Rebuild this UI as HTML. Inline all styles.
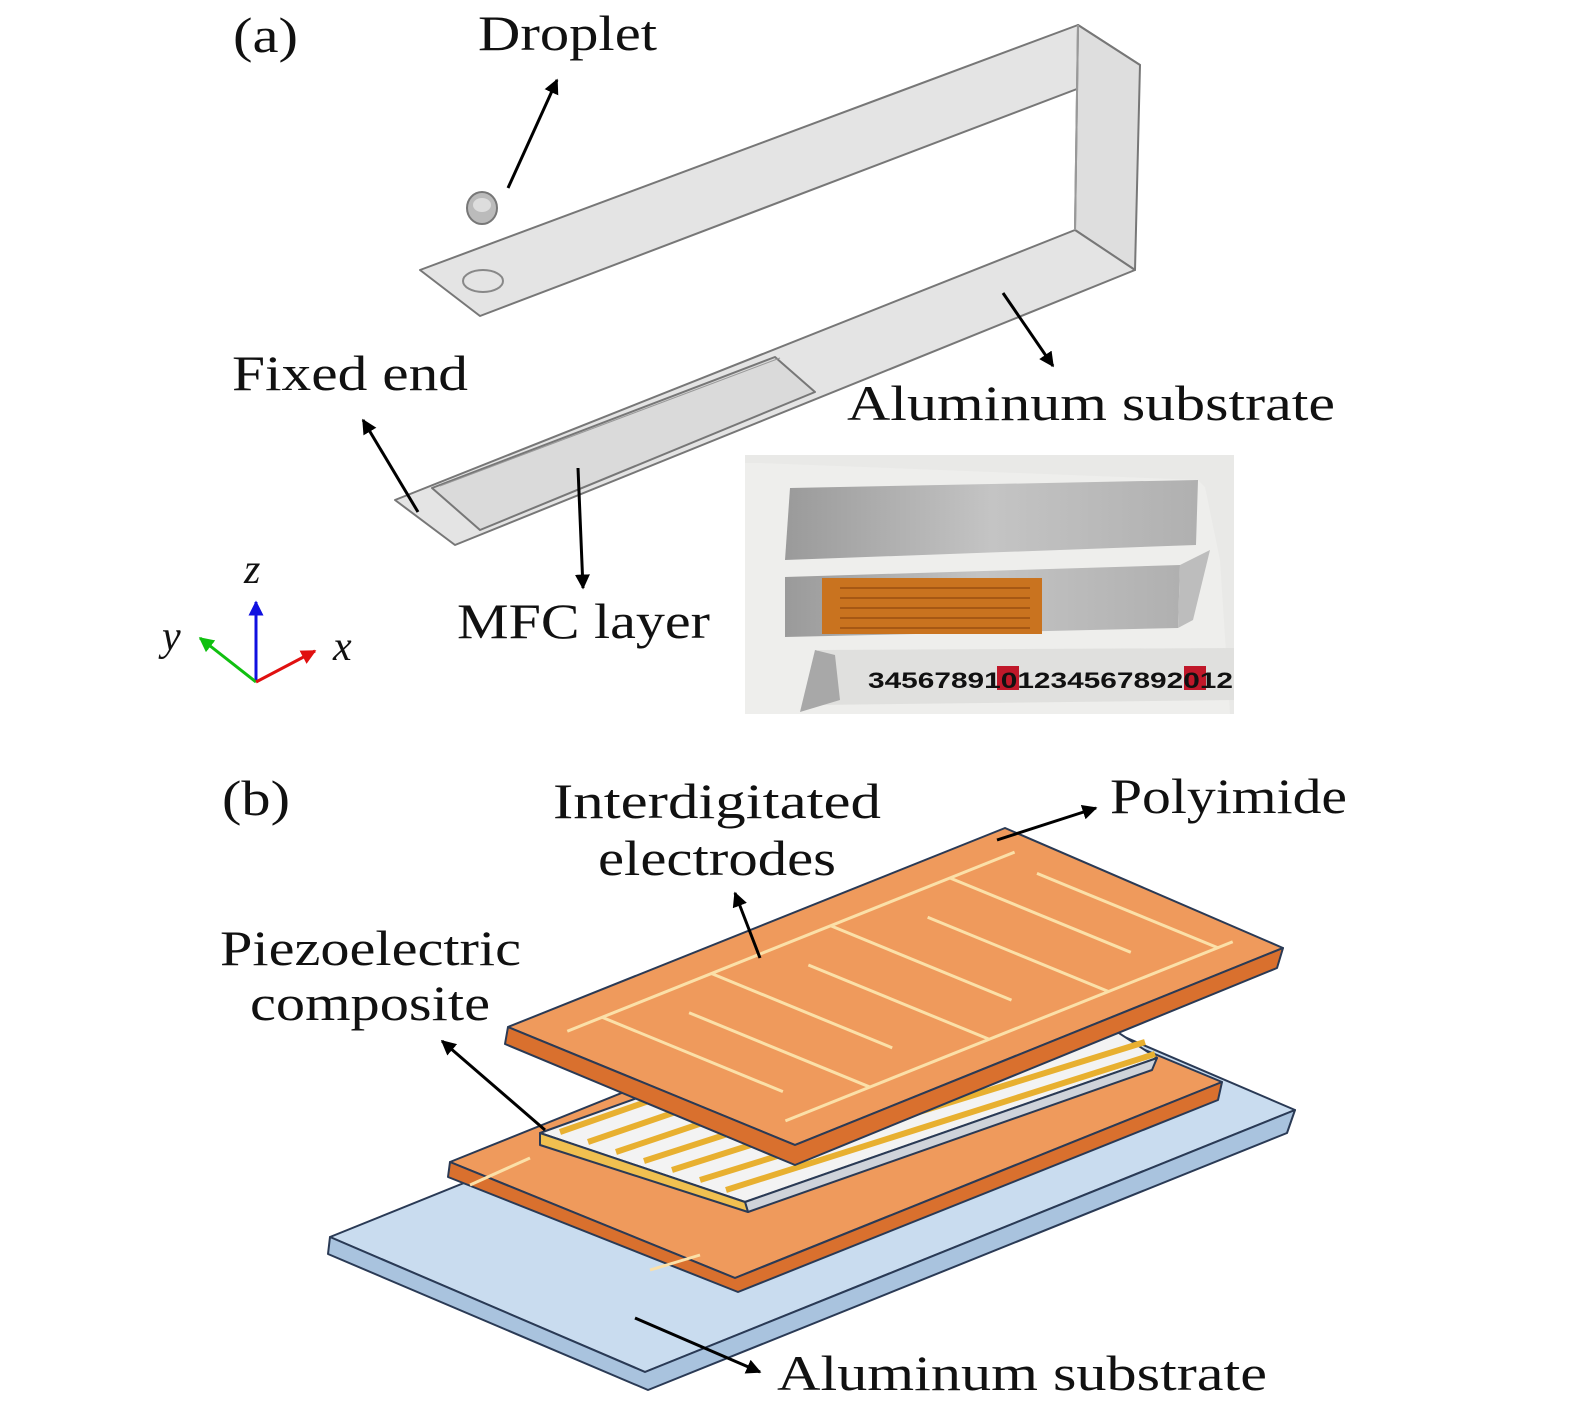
<!DOCTYPE html>
<html><head><meta charset="utf-8"><style>
html,body{margin:0;padding:0;background:#fff}
svg{display:block}
text{font-family:"Liberation Serif",serif;fill:#111}
</style></head><body>
<svg width="1575" height="1417" viewBox="0 0 1575 1417" xmlns="http://www.w3.org/2000/svg">
<defs>
<marker id="ah" viewBox="0 0 10 10" refX="9" refY="5" markerWidth="5" markerHeight="5" orient="auto"><path d="M0,0 L10,5 L0,10 z" fill="#000"/></marker>
<marker id="ar" viewBox="0 0 10 10" refX="9" refY="5" markerWidth="5" markerHeight="5" orient="auto"><path d="M0,0 L10,5 L0,10 z" fill="#e01010"/></marker>
<marker id="ag" viewBox="0 0 10 10" refX="9" refY="5" markerWidth="5" markerHeight="5" orient="auto"><path d="M0,0 L10,5 L0,10 z" fill="#10c010"/></marker>
<marker id="ab" viewBox="0 0 10 10" refX="9" refY="5" markerWidth="5" markerHeight="5" orient="auto"><path d="M0,0 L10,5 L0,10 z" fill="#1010e0"/></marker>
<linearGradient id="al" x1="0" y1="0" x2="1" y2="0"><stop offset="0" stop-color="#9a9a9a"/><stop offset="0.5" stop-color="#c4c4c4"/><stop offset="1" stop-color="#b0b0b0"/></linearGradient>
</defs>

<!-- (a) 3D model -->
<g stroke="#777" stroke-width="2" fill="#e4e4e4" stroke-linejoin="round">
  <polygon points="420,270 1078,25 1140,65 480,316"/>
  <polygon points="1078,25 1140,65 1135,270 1075,230" fill="#dedede"/>
  <polygon points="1075,230 1135,270 455,545 395,500"/>
  <polygon points="432,488 775,357 815,392 480,530" fill="#dadada"/>
  <line x1="440" y1="486" x2="780" y2="358" stroke="#999" stroke-width="1"/>
  <line x1="1078" y1="25" x2="1075" y2="230" stroke="#999"/>
</g>
<ellipse cx="483" cy="281" rx="20" ry="11" fill="none" stroke="#888" stroke-width="2"/>
<ellipse cx="482" cy="208" rx="15" ry="16" fill="#bbb" stroke="#777" stroke-width="2"/>
<ellipse cx="482" cy="205" rx="9" ry="7" fill="#ddd"/>

<!-- photo -->
<rect x="745" y="455" width="489" height="259" fill="#e9e9e7"/>
<polygon points="760,463 1198,480 1205,487 1220,560 1230,714 745,714 745,463" fill="#eeeeec"/>
<polygon points="790,488 1198,480 1196,545 785,560" fill="url(#al)"/>
<polygon points="785,577 1180,565 1178,628 785,637" fill="url(#al)"/>
<polygon points="1180,565 1210,550 1193,620 1178,628" fill="#bdbdbd"/>
<rect x="822" y="578" width="220" height="56" fill="#c9731f"/>
<g stroke="#9a4f10" stroke-width="1.5"><line x1="840" y1="588" x2="1030" y2="588"/><line x1="840" y1="598" x2="1030" y2="598"/><line x1="840" y1="608" x2="1030" y2="608"/><line x1="840" y1="618" x2="1030" y2="618"/><line x1="840" y1="628" x2="1030" y2="628"/></g>
<polygon points="818,650 1234,648 1234,700 815,705" fill="#e0e0de"/>
<polygon points="815,650 835,655 840,700 800,712" fill="#a8a8a8"/>
<rect x="997" y="666" width="22" height="24" fill="#c0182a"/>
<rect x="1184" y="666" width="22" height="24" fill="#c0182a"/>
<text x="868" y="688" font-weight="bold" font-size="22" textLength="365" lengthAdjust="spacingAndGlyphs" style="font-family:'Liberation Sans',sans-serif">3456789101234567892012</text>

<!-- axes -->
<line x1="256" y1="682" x2="256" y2="602" stroke="#1010e0" stroke-width="3" marker-end="url(#ab)"/>
<line x1="256" y1="682" x2="200" y2="638" stroke="#10c010" stroke-width="3" marker-end="url(#ag)"/>
<line x1="256" y1="682" x2="315" y2="651" stroke="#e01010" stroke-width="3" marker-end="url(#ar)"/>

<!-- (b) -->
<g stroke="#2a3a55" stroke-width="2" stroke-linejoin="round">
  <polygon points="330,1237 980,975 1295,1110 645,1372" fill="#c9dcef"/>
  <polygon points="330,1237 645,1372 1295,1110 1287,1133 648,1390 328,1254" fill="#a9c3de"/>
  <polygon points="450,1162 940,965 1222,1082 735,1278" fill="#ef9a5c"/>
  <polygon points="450,1162 735,1278 1222,1082 1218,1100 738,1292 448,1177" fill="#d9702e"/>
  <polygon points="540,1133 1012,963 1157,1058 745,1202" fill="#f3f3f3"/>
  <polygon points="745,1202 1157,1058 1152,1070 748,1212" fill="#cfd3da"/>
  <polygon points="540,1133 745,1202 748,1212 540,1145" fill="#f0c050"/>
</g>
<g stroke="#e8b030" stroke-width="6">
  <line x1="560" y1="1132" x2="1030" y2="968"/><line x1="588" y1="1142" x2="1055" y2="982"/><line x1="616" y1="1152" x2="1080" y2="996"/><line x1="644" y1="1161" x2="1105" y2="1012"/><line x1="672" y1="1170" x2="1125" y2="1026"/><line x1="700" y1="1180" x2="1145" y2="1042"/><line x1="726" y1="1190" x2="1155" y2="1054"/>
</g>
<g stroke="#fbe0a8" stroke-width="3" fill="none">
  <line x1="530" y1="1158" x2="470" y2="1185"/><line x1="700" y1="1255" x2="650" y2="1270"/>
</g>
<g stroke="#2a3a55" stroke-width="2" stroke-linejoin="round">
  <polygon points="508,1027 1005,828 1283,948 795,1145" fill="#ef9a5c"/>
  <polygon points="508,1027 795,1145 1283,948 1277,968 795,1165 505,1044" fill="#d9702e"/>
</g>
<g transform="matrix(497,-199,287,118,508,1027)" stroke="#fbe0a8" stroke-width="3" fill="none">
  <line x1="0.05" y1="0.12" x2="0.95" y2="0.12" vector-effect="non-scaling-stroke"/>
  <line x1="0.05" y1="0.88" x2="0.95" y2="0.88" vector-effect="non-scaling-stroke"/>
  <line x1="0.12" y1="0.12" x2="0.12" y2="0.75" vector-effect="non-scaling-stroke"/>
  <line x1="0.22" y1="0.25" x2="0.22" y2="0.88" vector-effect="non-scaling-stroke"/>
  <line x1="0.34" y1="0.12" x2="0.34" y2="0.75" vector-effect="non-scaling-stroke"/>
  <line x1="0.46" y1="0.25" x2="0.46" y2="0.88" vector-effect="non-scaling-stroke"/>
  <line x1="0.58" y1="0.12" x2="0.58" y2="0.75" vector-effect="non-scaling-stroke"/>
  <line x1="0.70" y1="0.25" x2="0.70" y2="0.88" vector-effect="non-scaling-stroke"/>
  <line x1="0.82" y1="0.12" x2="0.82" y2="0.75" vector-effect="non-scaling-stroke"/>
  <line x1="0.92" y1="0.25" x2="0.92" y2="0.88" vector-effect="non-scaling-stroke"/>
</g>

<!-- arrows -->
<g stroke="#000" stroke-width="3" marker-end="url(#ah)">
  <line x1="508" y1="188" x2="557" y2="80"/>
  <line x1="418" y1="512" x2="363" y2="420"/>
  <line x1="1003" y1="293" x2="1053" y2="366"/>
  <line x1="578" y1="468" x2="583" y2="588"/>
  <line x1="760" y1="958" x2="735" y2="893"/>
  <line x1="997" y1="840" x2="1096" y2="808"/>
  <line x1="545" y1="1130" x2="442" y2="1041"/>
  <line x1="635" y1="1318" x2="760" y2="1372"/>
</g>

<!-- labels -->
<g font-size="50" lengthAdjust="spacingAndGlyphs">
<text x="233" y="52" textLength="65" lengthAdjust="spacingAndGlyphs">(a)</text>
<text x="478" y="50" textLength="179" lengthAdjust="spacingAndGlyphs">Droplet</text>
<text x="232" y="390" textLength="236" lengthAdjust="spacingAndGlyphs">Fixed end</text>
<text x="847" y="420" textLength="488" lengthAdjust="spacingAndGlyphs">Aluminum substrate</text>
<text x="457" y="638" textLength="253" lengthAdjust="spacingAndGlyphs">MFC layer</text>
<text x="222" y="815" textLength="68" lengthAdjust="spacingAndGlyphs">(b)</text>
<text x="553" y="818" textLength="328" lengthAdjust="spacingAndGlyphs">Interdigitated</text>
<text x="598" y="875" textLength="238" lengthAdjust="spacingAndGlyphs">electrodes</text>
<text x="1110" y="813" textLength="237" lengthAdjust="spacingAndGlyphs">Polyimide</text>
<text x="220" y="965" textLength="301" lengthAdjust="spacingAndGlyphs">Piezoelectric</text>
<text x="250" y="1020" textLength="240" lengthAdjust="spacingAndGlyphs">composite</text>
<text x="777" y="1390" textLength="490" lengthAdjust="spacingAndGlyphs">Aluminum substrate</text>
<text x="244" y="583" font-style="italic" font-size="42">z</text>
<text x="162" y="650" font-style="italic" font-size="42">y</text>
<text x="333" y="660" font-style="italic" font-size="42">x</text>
</g>
</svg>
</body></html>
